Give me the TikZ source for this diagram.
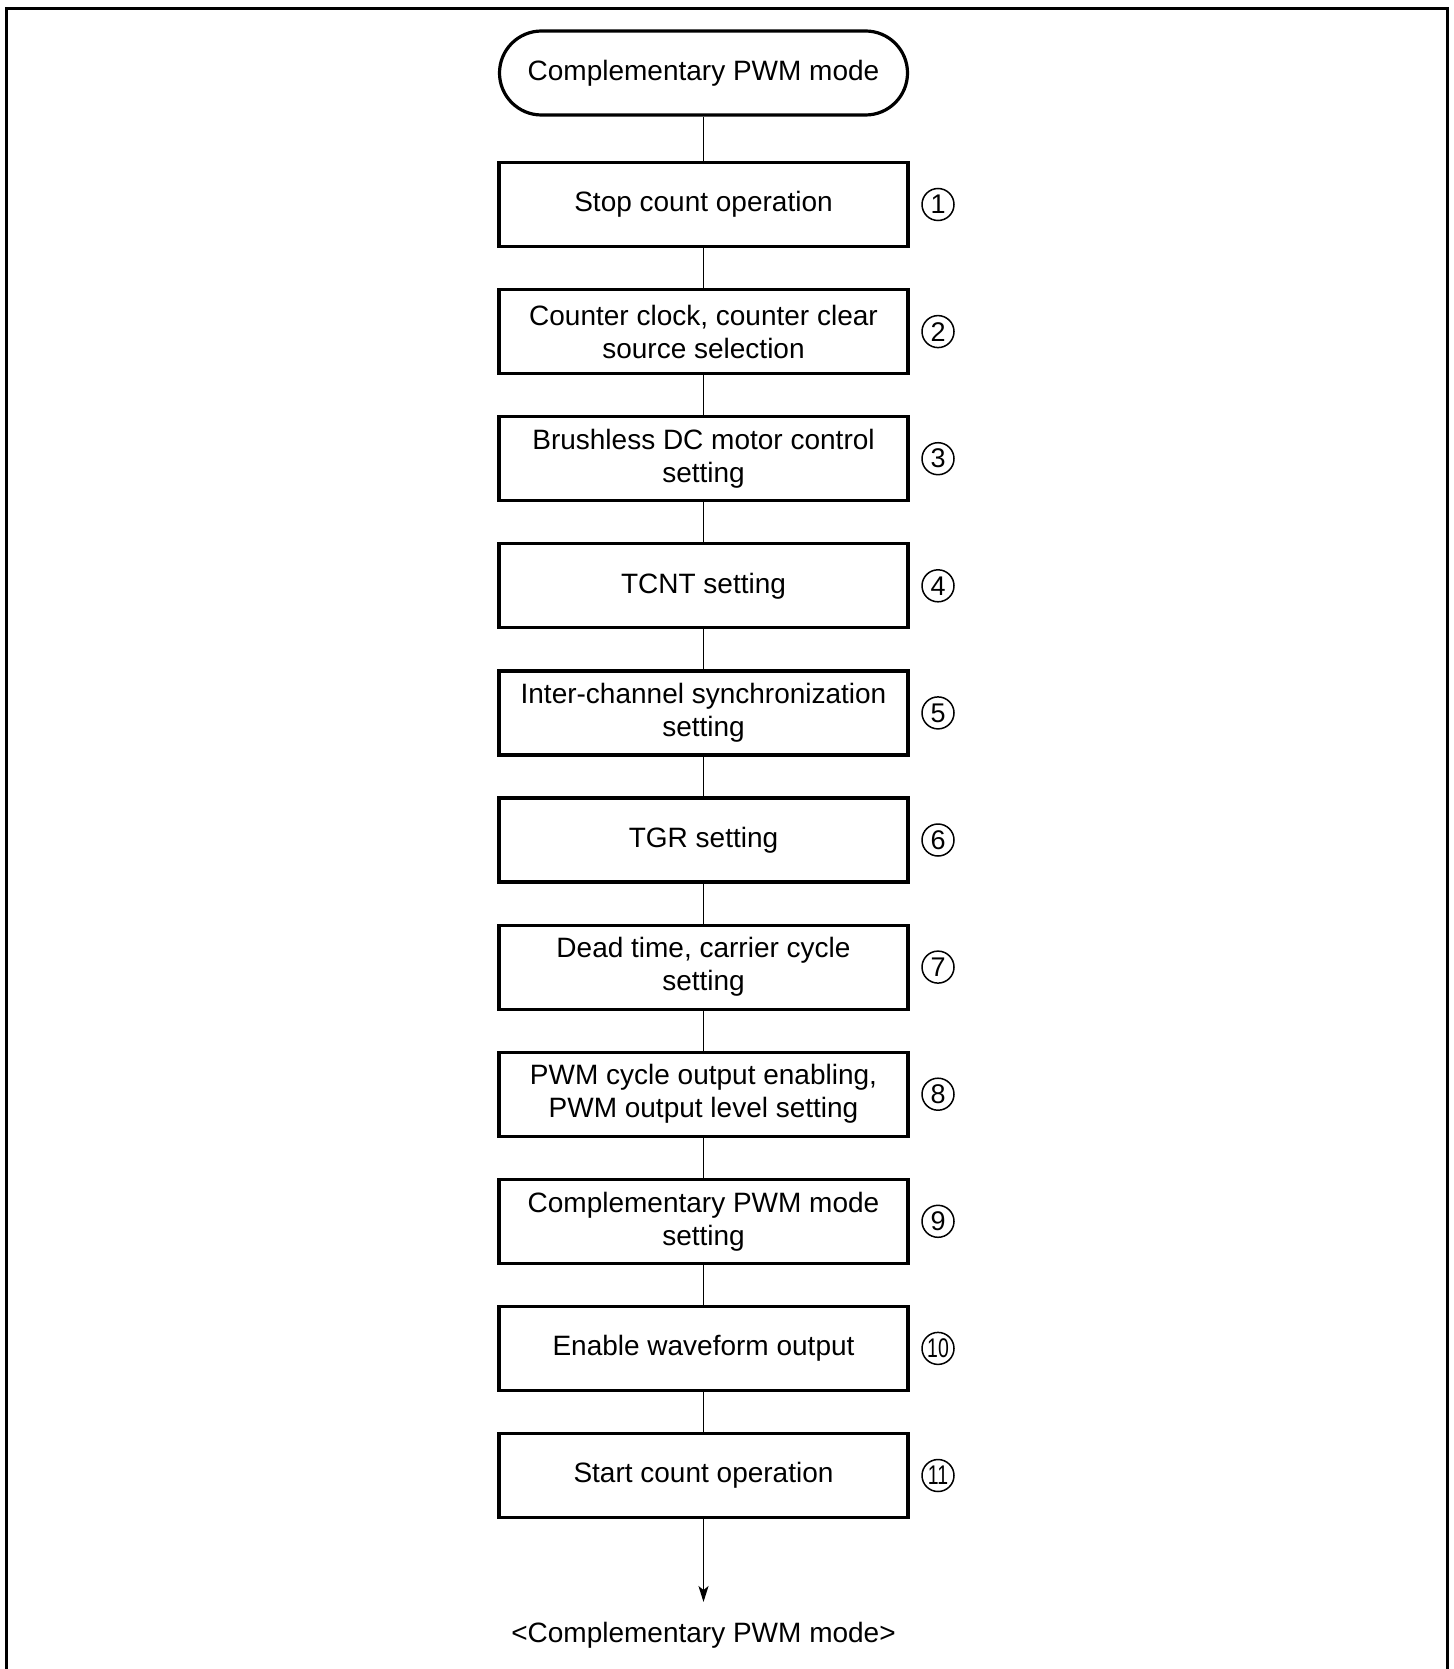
\documentclass[tikz,border=0pt]{standalone}
\usepackage{fontspec}
\setmainfont{Liberation Sans}
\usetikzlibrary{arrows.meta}
\tikzset{
  stepbox/.style={draw, line width=1.6pt, minimum width=204.5pt, minimum height=42pt,
    align=center, font=\fontsize{14}{16.5}\selectfont, inner sep=2pt},
  termbox/.style={stepbox, rounded corners=21pt, minimum width=204pt},
  stepnum/.style={draw, circle, line width=0.75pt, minimum size=16pt, inner sep=0pt,
    font=\fontsize{13.5}{13.5}\selectfont},
  link/.style={line width=0.8pt}
}
\newcommand{\narrow}[1]{\scalebox{0.72}[1]{#1}}
\begin{document}
\begin{tikzpicture}[x=0.5pt, y=-0.5pt]
    \useasboundingbox (0,0) rectangle (1453,1669);

    % Cadre
    \draw[line width=1.6pt] (6.5,1669) -- (6.5,8.5) -- (1447.5,8.5) -- (1447.5,1669);

    % Debut
    \node[termbox] (start) at (703.5,73) {Complementary PWM mode};

    % Etapes
    \node[stepbox] (s1)  at (703.5,204.5)  {Stop count operation};
    \node[stepbox] (s2)  at (703.5,331.6)  {Counter clock, counter clear\\source selection};
    \node[stepbox] (s3)  at (703.5,458.7)  {Brushless DC motor control\\setting};
    \node[stepbox] (s4)  at (703.5,585.8)  {TCNT setting};
    \node[stepbox] (s5)  at (703.5,712.9)  {Inter-channel synchronization\\setting};
    \node[stepbox] (s6)  at (703.5,840.0)  {TGR setting};
    \node[stepbox] (s7)  at (703.5,967.1)  {Dead time, carrier cycle\\setting};
    \node[stepbox] (s8)  at (703.5,1094.2) {PWM cycle output enabling,\\PWM output level setting};
    \node[stepbox] (s9)  at (703.5,1221.3) {Complementary PWM mode\\setting};
    \node[stepbox] (s10) at (703.5,1348.4) {Enable waveform output};
    \node[stepbox] (s11) at (703.5,1475.5) {Start count operation};

    % Numeros
    \foreach \i in {1,...,9}
        \node[stepnum] (n\i) at (938,{204.5+127.1*(\i-1)}) {\i};
    \node[stepnum] (n10) at (938,1348.4) {\narrow{10}};
    \node[stepnum] (n11) at (938,1475.5) {\narrow{11}};

    % Liaisons
    \draw[link] (start) -- (s1);
    \foreach \a/\b in {1/2,2/3,3/4,4/5,5/6,6/7,7/8,8/9,9/10,10/11}
        \draw[link] (s\a) -- (s\b);

    % Fin
    \coordinate (tip) at (703.5,1602);
    \draw[link, -{Stealth[length=8pt,width=5pt,inset=2pt]}] (s11) -- (tip);
    \node[font=\fontsize{14}{16.5}\selectfont] (endlabel) at (703.5,1635) {<Complementary PWM mode>};
\end{tikzpicture}
\end{document}
